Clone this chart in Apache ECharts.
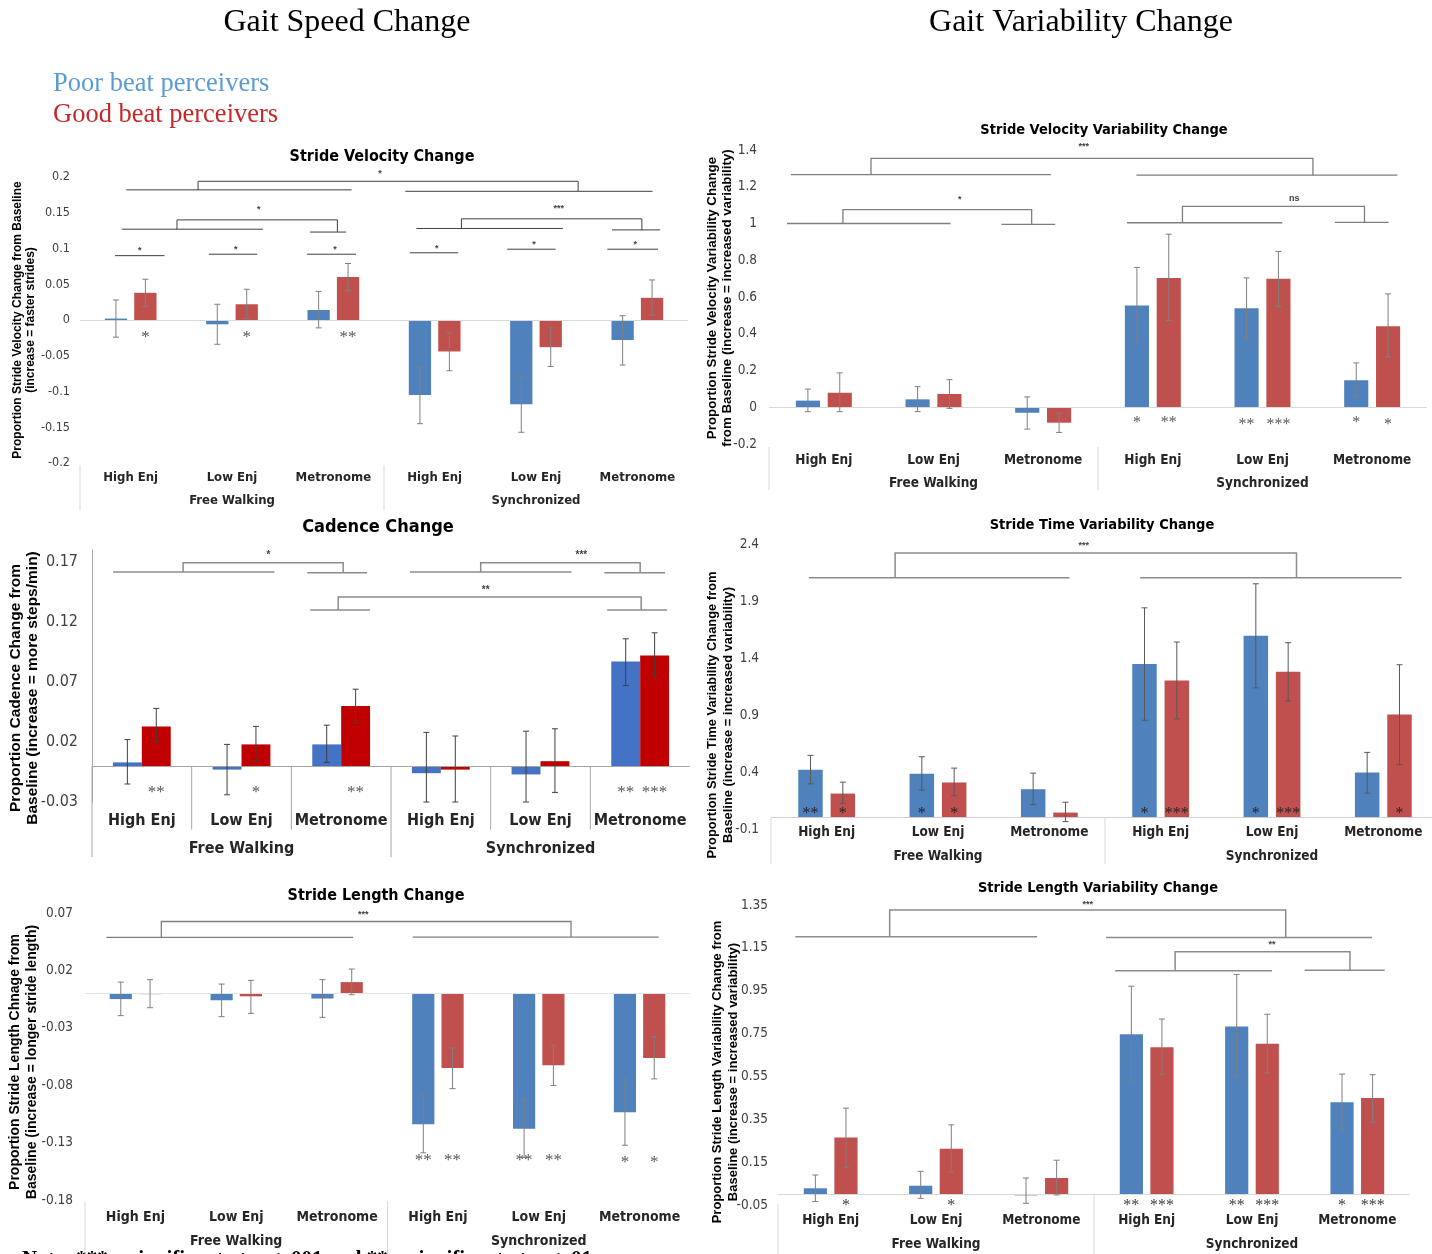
<!DOCTYPE html>
<html><head><meta charset="utf-8">
<script src="https://cdn.jsdelivr.net/npm/echarts@6/dist/echarts.min.js"></script>
<style>html,body{margin:0;padding:0;background:#fff}#c{width:1432px;height:1254px}</style>
</head><body><div id="c"></div>
<script>
// ---------- shared categories ----------
const categories = ['High Enj','Low Enj','Metronome','High Enj','Low Enj','Metronome'];
const groups = ['Free Walking','Synchronized'];

// ---------- Stride Velocity Change ----------
const velTicks = [-0.2,-0.15,-0.1,-0.05,0,0.05,0.1,0.15,0.2];
const velBlue = [0.002,-0.006,0.014,-0.105,-0.118,-0.028];
const velRed = [0.038,0.022,0.060,-0.044,-0.038,0.031];
const velBlueErr = [[-0.024,0.028],[-0.034,0.022],[-0.011,0.040],[-0.145,-0.066],[-0.157,-0.079],[-0.063,0.006]];
const velRedErr = [[0.019,0.057],[0.002,0.043],[0.041,0.079],[-0.071,-0.018],[-0.065,-0.011],[0.007,0.056]];
const velSpans = [[-0.044,2.18,0.182],[2.71,5.15,0.180],[-0.088,1.307,0.127],[1.77,2.126,0.123],[2.82,4.265,0.128],[4.75,5.226,0.126]];
const velBrackets = [
  [0.665,4.416,0.194,0.182,0.180,2.46,0.205,'*'],
  [0.457,2.04,0.140,0.127,0.123,1.263,0.154,'*'],
  [3.264,5.045,0.1415,0.128,0.126,4.225,0.156,'***'],
  [-0.155,0.333,0.090,0.090,0.090,0.09,0.097,'*'],
  [0.771,1.249,0.092,0.092,0.092,1.037,0.098,'*'],
  [1.741,2.224,0.092,0.092,0.092,2.016,0.099,'*'],
  [2.755,3.233,0.094,0.094,0.094,3.02,0.100,'*'],
  [3.716,4.194,0.099,0.099,0.099,3.98,0.105,'*'],
  [4.704,5.204,0.099,0.099,0.099,4.98,0.105,'*']];
const velStars = [[0,1,-0.025,'*'],[1,1,-0.025,'*'],[2,1,-0.025,'**']];
const velSeps = [[-0.5,-0.203,-0.266],[2.5,-0.203,-0.266]];

// ---------- Cadence Change ----------
const cadTicks = [-0.03,0.02,0.07,0.12,0.17];
const cadBlue = [0.003,-0.003,0.018,-0.006,-0.007,0.087];
const cadRed = [0.033,0.018,0.050,-0.003,0.004,0.092];
const cadBlueErr = [[-0.015,0.022],[-0.024,0.018],[0.003,0.034],[-0.030,0.028],[-0.030,0.029],[0.067,0.106]];
const cadRedErr = [[0.020,0.048],[0.004,0.033],[0.036,0.064],[-0.030,0.025],[-0.022,0.031],[0.075,0.111]];
const cadSpans = [[-0.288,1.33,0.1617],[1.66,2.26,0.1611],[2.69,4.31,0.1617],[4.64,5.25,0.1611],[1.69,2.29,0.130],[4.67,5.27,0.130]];
const cadBrackets = [
  [0.414,2.02,0.1694,0.1617,0.1611,1.27,0.1756,'*'],
  [3.40,5.0,0.1694,0.1617,0.1611,4.41,0.1756,'***'],
  [1.97,5.01,0.1408,0.130,0.130,3.45,0.1464,'**']];
const cadStars = [[0,1,-0.022,'**'],[1,1,-0.022,'*'],[2,1,-0.022,'**'],[5,0,-0.022,'**'],[5,1,-0.022,'***']];
const cadSeps = [[-0.5,0,-0.076],[2.5,0,-0.076],[0.5,0,-0.053],[1.5,0,-0.053],[3.5,0,-0.053],[4.5,0,-0.053]];

// ---------- Stride Length Change ----------
const lenTicks = [-0.18,-0.13,-0.08,-0.03,0.02,0.07];
const lenBlue = [-0.005,-0.006,-0.0045,-0.114,-0.118,-0.1035];
const lenRed = [-0.0007,-0.0026,0.0098,-0.065,-0.0627,-0.0563];
const lenBlueErr = [[-0.0194,0.0098],[-0.0203,0.0081],[-0.0209,0.0119],[-0.1389,-0.0888],[-0.1429,-0.0925],[-0.1323,-0.0751]];
const lenRedErr = [[-0.0125,0.0119],[-0.0174,0.0113],[-0.0012,0.0212],[-0.083,-0.0476],[-0.0803,-0.0452],[-0.0745,-0.0379]];
const lenSpans = [[-0.288,2.159,0.0487],[2.75,5.19,0.0490]];
const lenBrackets = [[0.257,4.32,0.0626,0.0487,0.0490,2.26,0.0688,'***']];
const lenStars = [[3,0,-0.146,'**'],[3,1,-0.146,'**'],[4,0,-0.146,'**'],[4,1,-0.146,'**'],[5,0,-0.147,'*'],[5,1,-0.147,'*']];
const lenSeps = [[-0.5,-0.181,-0.228],[2.5,-0.181,-0.228]];

// ---------- Stride Velocity Variability Change ----------
const svvTicks = [-0.2,0,0.2,0.4,0.6,0.8,1,1.2,1.4];
const svvBlue = [0.036,0.043,-0.030,0.554,0.539,0.147];
const svvRed = [0.079,0.072,-0.084,0.704,0.699,0.441];
const svvBlueErr = [[-0.024,0.099],[-0.024,0.112],[-0.119,0.056],[0.356,0.761],[0.370,0.704],[0.061,0.241]];
const svvRedErr = [[-0.024,0.187],[-0.006,0.150],[-0.137,-0.032],[0.472,0.942],[0.548,0.848],[0.274,0.617]];
const svvSpans = [[-0.30,2.07,1.266],[2.85,5.23,1.263],[-0.336,1.155,1.0],[1.62,2.11,0.995],[2.765,4.18,1.004],[4.66,5.15,1.006]];
const svvBrackets = [
  [0.43,4.46,1.3546,1.266,1.263,2.37,1.418,'***'],
  [0.174,1.895,1.075,1.0,0.995,1.24,1.131,'*'],
  [3.27,4.93,1.093,1.004,1.006,4.29,1.135,'ns']];
const svvStars = [[3,0,-0.086,'*'],[3,1,-0.086,'**'],[4,0,-0.095,'**'],[4,1,-0.095,'***'],[5,0,-0.086,'*'],[5,1,-0.095,'*']];
const svvSeps = [[-0.5,-0.216,-0.45],[2.5,-0.216,-0.45]];

// ---------- Stride Time Variability Change ----------
const stvTicks = [-0.1,0.4,0.9,1.4,1.9,2.4];
const stvBlue = [0.420,0.384,0.249,1.347,1.596,0.396];
const stvRed = [0.211,0.308,0.044,1.203,1.279,0.904];
const stvBlueErr = [[0.296,0.546],[0.241,0.534],[0.114,0.390],[0.854,1.840],[1.138,2.051],[0.214,0.572]];
const stvRedErr = [[0.126,0.311],[0.191,0.434],[-0.035,0.135],[0.866,1.540],[1.024,1.534],[0.464,1.341]];
const stvSpans = [[-0.16,2.18,2.104],[2.816,5.163,2.104]];
const stvBrackets = [[0.615,4.22,2.321,2.104,2.104,2.31,2.391,'***']];
const stvStars = [[0,0,0.029,'**'],[0,1,0.029,'*'],[1,0,0.029,'*'],[1,1,0.029,'*'],[3,0,0.029,'*'],[3,1,0.029,'***'],[4,0,0.029,'*'],[4,1,0.029,'***'],[5,1,0.029,'*']];
const stvSeps = [[-0.5,0,-0.41],[2.5,0,-0.41]];

// ---------- Stride Length Variability Change ----------
const slvTicks = [-0.05,0.15,0.35,0.55,0.75,0.95,1.15,1.35];
const slvBlue = [0.028,0.040,-0.005,0.747,0.783,0.430];
const slvRed = [0.265,0.213,0.076,0.686,0.703,0.449];
const slvBlueErr = [[-0.034,0.090],[-0.019,0.107],[-0.042,0.076],[0.524,0.971],[0.550,1.026],[0.302,0.561]];
const slvRedErr = [[0.126,0.402],[0.104,0.324],[-0.003,0.159],[0.558,0.818],[0.567,0.840],[0.337,0.558]];
const slvSpans = [[-0.336,1.96,1.202],[2.615,5.14,1.198],[2.70,4.19,1.043],[4.5,5.26,1.046]];
const slvBrackets = [
  [0.56,4.32,1.327,1.202,1.198,2.44,1.35,'***'],
  [3.27,4.93,1.132,1.043,1.046,4.19,1.166,'**']];
const slvStars = [[0,1,-0.054,'*'],[1,1,-0.054,'*'],[3,0,-0.054,'**'],[3,1,-0.054,'***'],[4,0,-0.054,'**'],[4,1,-0.054,'***'],[5,0,-0.054,'*'],[5,1,-0.054,'***']];
const slvSeps = [[-0.5,-0.045,-0.28],[2.5,0,-0.28]];

// ---------- fonts ----------
const NARROW = "'Liberation Sans Narrow','Arial Narrow','DejaVu Sans Condensed',sans-serif";
const SANS = "'Liberation Sans',Arial,sans-serif";
const SERIF = "'Liberation Serif','Times New Roman',serif";

// ---------- panels (layout + style) ----------
const panels = [
  {title:'Stride Velocity Change', tx:382, ty:157, tFont:16,
   yName:['Proportion Stride Velocity Change from Baseline','(increase = faster strides)'], nx:[18,31], ny:320, nFont:12,
   left:80, top:177, width:608, height:286, ticks:velTicks, max:0.2,
   blue:velBlue, red:velRed, blueErr:velBlueErr, redErr:velRedErr, spans:velSpans, brackets:velBrackets, stars:velStars, seps:velSeps,
   colors:['#4f81bd','#c0504d'], barW:0.22, gap:0.32, yFont:12.5, yMargin:10, catFont:13, catMargin:8, grpOffset:23,
   zeroColor:'#d9d9d9', errColor:'#7f7f7f', lineColor:'#404040', lineW:1, sepColor:'#d9d9d9', starColor:'#595959', starFont:17, sigFont:9, axisLine:false},
  {title:'Cadence Change', tx:378, ty:527, tFont:18,
   yName:['Proportion Cadence Change from','Baseline (increase = more steps/min)'], nx:[16,33], ny:688, nFont:15.5,
   left:92, top:550, width:598, height:252, ticks:cadTicks, max:0.18,
   blue:cadBlue, red:cadRed, blueErr:cadBlueErr, redErr:cadRedErr, spans:cadSpans, brackets:cadBrackets, stars:cadStars, seps:cadSeps,
   colors:['#4472c4','#c00000'], barW:0.29, gap:0, yFont:16, yMargin:14, catFont:16, catMargin:11, grpOffset:28,
   zeroColor:'#a6a6a6', errColor:'#404040', lineColor:'#8c8c8c', lineW:1.5, sepColor:'#a6a6a6', starColor:'#595959', starFont:17, sigFont:10, axisLine:true},
  {title:'Stride Length Change', tx:376, ty:896, tFont:16,
   yName:['Proportion Stride Length Chnage from','Baseline (increase = longer stride length)'], nx:[15,32], ny:1062, nFont:14,
   left:85, top:913, width:605, height:287, ticks:lenTicks, max:0.07,
   blue:lenBlue, red:lenRed, blueErr:lenBlueErr, redErr:lenRedErr, spans:lenSpans, brackets:lenBrackets, stars:lenStars, seps:lenSeps,
   colors:['#4f81bd','#c0504d'], barW:0.22, gap:0.32, yFont:13.5, yMargin:12, catFont:14, catMargin:10, grpOffset:24,
   zeroColor:'#e3e3e3', errColor:'#7f7f7f', lineColor:'#7f7f7f', lineW:1.3, sepColor:'#d9d9d9', starColor:'#595959', starFont:17, sigFont:9, axisLine:false},
  {title:'Stride Velocity Variability Change', tx:1104, ty:130, tFont:14.5,
   yName:['Proportion Stride Velocity Variability Change','from Baseline (increase = increased variability)'], nx:[712,727], ny:298, nFont:13.3,
   left:769, top:150, width:658, height:294, ticks:svvTicks, max:1.4,
   blue:svvBlue, red:svvRed, blueErr:svvBlueErr, redErr:svvRedErr, spans:svvSpans, brackets:svvBrackets, stars:svvStars, seps:svvSeps,
   colors:['#4f81bd','#c0504d'], barW:0.22, gap:0.32, yFont:13.5, yMargin:12, catFont:13.5, catMargin:9, grpOffset:23,
   zeroColor:'#d9d9d9', errColor:'#7f7f7f', lineColor:'#7f7f7f', lineW:1.3, sepColor:'#d9d9d9', starColor:'#595959', starFont:16, sigFont:9, axisLine:false},
  {title:'Stride Time Variability Change', tx:1102, ty:525, tFont:14.5,
   yName:['Proportion Stride Time Variability Change from','Baseline (increase = increased variability)'], nx:[712,728], ny:715, nFont:12.9,
   left:771, top:544, width:668, height:285, ticks:stvTicks, max:2.4,
   blue:stvBlue, red:stvRed, blueErr:stvBlueErr, redErr:stvRedErr, spans:stvSpans, brackets:stvBrackets, stars:stvStars, seps:stvSeps,
   colors:['#4f81bd','#c0504d'], barW:0.22, gap:0.32, yFont:13.5, yMargin:12, catFont:13.5, catMargin:-4, grpOffset:24,
   zeroColor:'#d0d0d0', errColor:'#595959', lineColor:'#8c8c8c', lineW:1.5, sepColor:'#d9d9d9', starColor:'#262626', starFont:16, sigFont:9, axisLine:false},
  {title:'Stride Length Variability Change', tx:1098, ty:888, tFont:14.5,
   yName:['Proportion Stride Length Variability Change from','Baseline (increase = increased variability)'], nx:[717,733], ny:1072, nFont:13,
   left:778, top:905, width:632, height:300, ticks:slvTicks, max:1.35,
   blue:slvBlue, red:slvRed, blueErr:slvBlueErr, redErr:slvRedErr, spans:slvSpans, brackets:slvBrackets, stars:slvStars, seps:slvSeps,
   colors:['#4f81bd','#c0504d'], barW:0.22, gap:0.32, yFont:13.5, yMargin:10, catFont:13.5, catMargin:8, grpOffset:24,
   zeroColor:'#d9d9d9', errColor:'#7f7f7f', lineColor:'#8c8c8c', lineW:1.5, sepColor:'#d9d9d9', starColor:'#404040', starFont:16, sigFont:9, axisLine:false}
];

function errRender(p, which, errs) {
  const off = (which ? 1 : -1) * p.barW * (1 + p.gap) / 2;
  return function (params, api) {
    const i = params.dataIndex;
    const band = api.size([1, 0])[0];
    const x = api.coord([i, 0])[0] + off * band;
    const y1 = api.coord([i, errs[i][0]])[1];
    const y2 = api.coord([i, errs[i][1]])[1];
    const st = {stroke: p.errColor, lineWidth: 1};
    return {type: 'group', children: [
      {type: 'line', shape: {x1: x, y1: y1, x2: x, y2: y2}, style: st},
      {type: 'line', shape: {x1: x - 3, y1: y1, x2: x + 3, y2: y1}, style: st},
      {type: 'line', shape: {x1: x - 3, y1: y2, x2: x + 3, y2: y2}, style: st}
    ]};
  };
}

function annotRender(p, items) {
  return function (params, api) {
    const it = items[params.dataIndex];
    const band = api.size([1, 0])[0];
    const x0 = api.coord([0, 0])[0];
    const X = v => x0 + v * band;
    const Y = v => api.coord([0, v])[1];
    const ls = {stroke: p.lineColor, lineWidth: p.lineW, fill: 'none'};
    const d = it.d;
    if (it.k === 'span') {
      return {type: 'line', shape: {x1: X(d[0]), y1: Y(d[2]), x2: X(d[1]), y2: Y(d[2])}, style: ls};
    }
    if (it.k === 'sep') {
      return {type: 'line', shape: {x1: X(d[0]), y1: Y(d[1]), x2: X(d[0]), y2: Y(d[2])}, style: {stroke: p.sepColor, lineWidth: 1}};
    }
    if (it.k === 'br') {
      return {type: 'group', children: [
        {type: 'polyline', shape: {points: [[X(d[0]), Y(d[3])], [X(d[0]), Y(d[2])], [X(d[1]), Y(d[2])], [X(d[1]), Y(d[4])]]}, style: ls},
        {type: 'text', x: X(d[5]), y: Y(d[6]), style: {text: d[7], font: 'bold ' + p.sigFont + 'px ' + SANS, fill: '#404040', align: 'center', verticalAlign: 'middle'}}
      ]};
    }
    if (it.k === 'star') {
      const off = (d[1] ? 1 : -1) * p.barW * (1 + p.gap) / 2;
      return {type: 'text', x: X(d[0] + off), y: Y(d[2]), style: {text: d[3], font: p.starFont + 'px ' + SERIF, fill: p.starColor, align: 'center', verticalAlign: 'middle'}};
    }
    return null;
  };
}

const grid = [], xAxis = [], yAxis = [], series = [], graphic = [];
panels.forEach((p, k) => {
  grid.push({left: p.left, top: p.top, width: p.width, height: p.height, containLabel: false, outerBoundsMode: 'none'});
  const catLabel = {interval: 0, fontFamily: NARROW, fontWeight: 'bold', fontSize: p.catFont, color: '#262626'};
  xAxis.push({gridIndex: k, type: 'category', data: categories, position: 'bottom',
    axisLine: {show: false}, axisTick: {show: false}, axisLabel: Object.assign({}, catLabel, {margin: p.catMargin})});
  xAxis.push({gridIndex: k, type: 'category', data: groups, position: 'bottom', offset: p.grpOffset,
    axisLine: {show: false}, axisTick: {show: false}, axisLabel: Object.assign({}, catLabel, {margin: p.catMargin})});
  const tmin = p.ticks[0], step = +(p.ticks[1] - p.ticks[0]).toFixed(4);
  yAxis.push({gridIndex: k, type: 'value', min: tmin, max: p.max, interval: step,
    splitLine: {show: false}, axisTick: {show: false},
    axisLine: {show: p.axisLine, lineStyle: {color: '#a6a6a6', width: 1}},
    axisLabel: {margin: p.yMargin, fontSize: p.yFont, fontFamily: NARROW, color: '#404040',
      showMaxLabel: p.ticks[p.ticks.length - 1] === p.max,
      formatter: v => String(+(+v).toFixed(3))}});
  const xi = 2 * k;
  series.push({name: 'Poor beat perceivers', type: 'bar', xAxisIndex: xi, yAxisIndex: k, data: p.blue,
    barWidth: (p.barW * 100) + '%', barGap: (p.gap * 100) + '%', itemStyle: {color: p.colors[0]},
    markLine: {silent: true, symbol: 'none', label: {show: false}, animation: false,
      lineStyle: {color: p.zeroColor, width: 1.2, type: 'solid'}, data: [{yAxis: 0}]}});
  series.push({name: 'Good beat perceivers', type: 'bar', xAxisIndex: xi, yAxisIndex: k, data: p.red,
    barWidth: (p.barW * 100) + '%', barGap: (p.gap * 100) + '%', itemStyle: {color: p.colors[1]}});
  series.push({type: 'custom', xAxisIndex: xi, yAxisIndex: k, z: 5, silent: true,
    data: p.blueErr.map((e, i) => [i, e[0]]), renderItem: errRender(p, 0, p.blueErr)});
  series.push({type: 'custom', xAxisIndex: xi, yAxisIndex: k, z: 5, silent: true,
    data: p.redErr.map((e, i) => [i, e[0]]), renderItem: errRender(p, 1, p.redErr)});
  const items = [].concat(
    p.seps.map(d => ({k: 'sep', d})),
    p.spans.map(d => ({k: 'span', d})),
    p.brackets.map(d => ({k: 'br', d})),
    p.stars.map(d => ({k: 'star', d})));
  series.push({type: 'custom', xAxisIndex: xi, yAxisIndex: k, z: 6, silent: true, clip: false,
    data: items.map(() => [0, 0]), renderItem: annotRender(p, items)});
  graphic.push({type: 'text', x: p.tx, y: p.ty, style: {text: p.title, font: 'bold ' + p.tFont + 'px ' + NARROW, fill: '#000', align: 'center', verticalAlign: 'middle'}});
  p.yName.forEach((t, j) => graphic.push({type: 'text', x: p.nx[j], y: p.ny, rotation: Math.PI / 2,
    style: {text: t, font: 'bold ' + p.nFont + 'px ' + SANS, fill: '#000', align: 'center', verticalAlign: 'middle'}}));
});

graphic.push(
  {type: 'text', x: 347, y: 23, style: {text: 'Gait Speed Change', font: '32px ' + SERIF, fill: '#000', align: 'center', verticalAlign: 'middle'}},
  {type: 'text', x: 1081, y: 23, style: {text: 'Gait Variability Change', font: '32px ' + SERIF, fill: '#000', align: 'center', verticalAlign: 'middle'}},
  {type: 'text', x: 53, y: 84, style: {text: 'Poor beat perceivers', font: '26.5px ' + SERIF, fill: '#5b9bd5', align: 'left', verticalAlign: 'middle'}},
  {type: 'text', x: 53, y: 115, style: {text: 'Good beat perceivers', font: '26.5px ' + SERIF, fill: '#c62828', align: 'left', verticalAlign: 'middle'}},
  {type: 'text', x: 22, y: 1249, style: {text: 'Note: *** = significant at p < .001 and ** = significant at p < .01', font: 'bold 21px ' + SERIF, fill: '#000', align: 'left', verticalAlign: 'top'}}
);

const chart = echarts.init(document.getElementById('c'), null, {renderer: 'canvas'});
chart.setOption({animation: false, backgroundColor: '#fff', grid, xAxis, yAxis, series, graphic});
</script></body></html>
